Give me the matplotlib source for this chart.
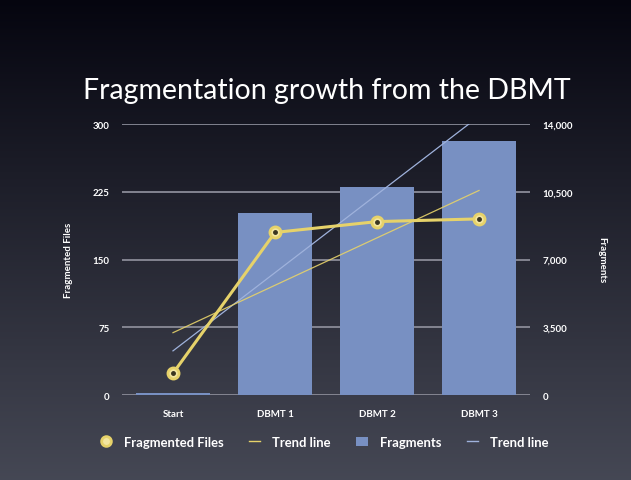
import numpy as np
import matplotlib
matplotlib.use("Agg")
import matplotlib.pyplot as plt
from matplotlib.lines import Line2D
from matplotlib.patches import Patch

plt.rcParams['font.family'] = ['Lato', 'DejaVu Sans']

categories = ["Start", "DBMT 1", "DBMT 2", "DBMT 3"]
fragmented_files = [24, 180, 192, 195]
fragments = [100, 9400, 10750, 13120]
left_ticks = [0, 75, 150, 225, 300]
right_ticks = [0, 3500, 7000, 10500, 14000]
right_tick_labels = ["0", "3,500", "7,000", "10,500", "14,000"]

title = "Fragmentation growth from the DBMT"

yellow = "#e6d26a"
bar_col = "#7890c2"
blue_trend = "#9fb2dc"
grid_col = "#8a8b97"

fig = plt.figure(figsize=(6.31, 4.81), dpi=100)

# gradient background
bg = fig.add_axes([0, 0, 1, 1], zorder=-10)
top = np.array([0.02, 0.02, 0.06])
bot = np.array([0.27, 0.28, 0.33])
t = np.linspace(0, 1, 256)[:, None]
grad = top[None, :] * (1 - t) + bot[None, :] * t
img = np.repeat(grad[:, None, :], 4, axis=1)
bg.imshow(img, aspect='auto', extent=[0, 1, 0, 1], origin='upper')
bg.axis('off')

pos = [0.1933, 0.1767, 0.8400 - 0.1933, 0.7400 - 0.1767]
ax2 = fig.add_axes(pos, zorder=1)   # bars (right axis)
ax1 = fig.add_axes(pos, zorder=2)   # line (left axis)
for a in (ax1, ax2):
    a.patch.set_visible(False)
    for s in a.spines.values():
        s.set_visible(False)

x = np.arange(len(categories))

ax2.set_ylim(0, 14000)
ax2.set_yticks(right_ticks)
ax2.set_yticklabels(right_tick_labels)
for v in right_ticks:
    ax2.axhline(v, color=grid_col, lw=1.3, zorder=0)
ax2.bar(x, fragments, width=0.72, color=bar_col, zorder=2)
cf = np.polyfit(x, fragments, 1)
ax2.plot(x, np.polyval(cf, x), color=blue_trend, lw=0.9, zorder=3)
ax2.set_xlim(-0.5, 3.5)
ax2.yaxis.tick_right()
ax2.yaxis.set_label_position('right')
ax2.set_xticks([])
ax2.tick_params(axis='y', length=0, labelsize=7, colors='white', pad=9)
for lb in ax2.get_yticklabels():
    lb.set_fontweight('bold')
ax2.set_ylabel("Fragments", rotation=270, color='white', fontsize=7, fontweight='bold',
               labelpad=24)

ax1.set_ylim(0, 300)
ax1.set_xlim(-0.5, 3.5)
ax1.set_yticks(left_ticks)
ax1.set_xticks(x)
ax1.set_xticklabels(categories)
ax1.tick_params(axis='both', length=0, labelsize=7, colors='white')
ax1.tick_params(axis='y', pad=9)
ax1.tick_params(axis='x', pad=10)
for lb in ax1.get_yticklabels() + ax1.get_xticklabels():
    lb.set_fontweight('bold')
ax1.set_ylabel("Fragmented Files", color='white', fontsize=7, fontweight='bold', labelpad=14)
cl = np.polyfit(x, fragmented_files, 1)
ax1.plot(x, np.polyval(cl, x), color=yellow, lw=0.9, alpha=0.9, zorder=3)
ax1.plot(x, fragmented_files, color=yellow, lw=2.2, marker='o', markersize=8,
         mfc='#f3e6a0', mec=yellow, mew=2, zorder=4)
ax1.plot(x, fragmented_files, ls='none', marker='o', markersize=2.5,
         mfc='#3a3520', mec='#3a3520', zorder=5)

fig.text(0.518, 0.81, title, color='white', fontsize=20.5, ha='center', va='center')

handles = [
    Line2D([], [], ls='none', marker='o', markersize=7, mfc='#f3e6a0', mec=yellow, mew=2),
    Line2D([], [], color=yellow, lw=1),
    Patch(facecolor=bar_col),
    Line2D([], [], color=blue_trend, lw=1),
]
labels = ["Fragmented Files", "Trend line", "Fragments", "Trend line"]
leg = fig.legend(handles, labels, loc='center', bbox_to_anchor=(0.514, 0.079), ncol=4,
                 frameon=False, fontsize=9.4, handlelength=0.9, columnspacing=1.95,
                 handletextpad=0.9)
for txt in leg.get_texts():
    txt.set_color('white')
    txt.set_fontweight('bold')

fig.savefig("out.png", dpi=100)
